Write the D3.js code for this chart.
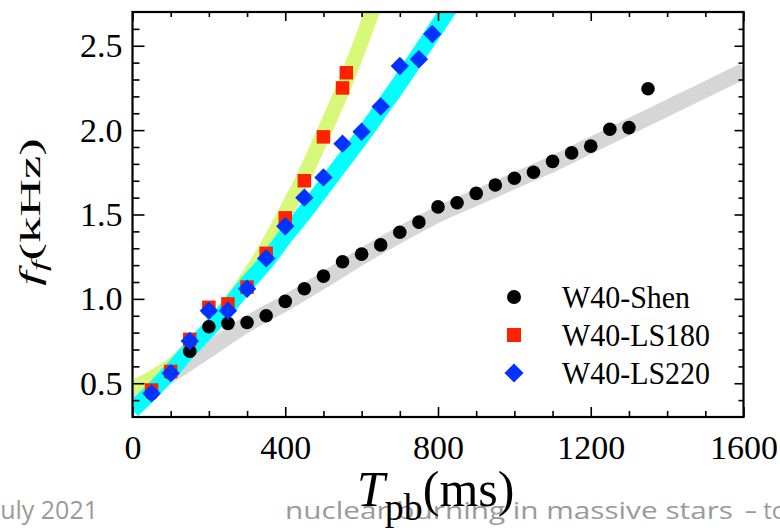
<!DOCTYPE html>
<html><head><meta charset="utf-8">
<script src="https://cdn.jsdelivr.net/npm/d3@7"></script>
<style>body{margin:0;background:#fff;} svg{display:block;}</style>
</head><body>
<svg id="chart" width="780" height="528"></svg>
<script>
// ---- data ----
const shenT = [50,100,150,200,250,300,350,400,450,500,550,600,650,700,750,800,850,900,950,1000,1050,1100,1150,1200,1250,1300,1350];
const shenF = [0.44,0.56,0.69,0.835,0.855,0.86,0.90,0.985,1.06,1.135,1.22,1.265,1.32,1.395,1.455,1.545,1.57,1.625,1.675,1.715,1.75,1.815,1.865,1.905,2.005,2.015,2.245];
const ls180T = [50,100,150,200,250,300,350,400,450,500,550,560];
const ls180F = [0.46,0.57,0.76,0.95,0.97,1.07,1.27,1.48,1.70,1.96,2.25,2.34];
const ls220T = [50,100,150,200,250,300,350,400,450,500,550,600,650,700,750,785];
const ls220F = [0.44,0.56,0.75,0.93,0.93,1.06,1.24,1.43,1.60,1.72,1.92,1.99,2.14,2.38,2.42,2.57];
const fitShenT = [0,100,200,300,400,500,600,700,800,900,1000,1100,1200,1300,1400,1500,1600];
const fitShenF = [0.40,0.55,0.70,0.85,0.975,1.11,1.25,1.38,1.50,1.60,1.70,1.80,1.91,2.02,2.13,2.24,2.35];
const fit180T = [0,50,100,150,200,250,300,350,400,450,500,550,600,650];
const fit180F = [0.47,0.53,0.60,0.70,0.82,0.96,1.12,1.30,1.51,1.73,1.98,2.24,2.53,2.84];
const fit220T = [0,50,100,150,200,250,300,350,400,450,500,550,600,650,700,750,800,850];
const fit220F = [0.34,0.45,0.57,0.70,0.82,0.95,1.09,1.22,1.37,1.51,1.66,1.81,1.96,2.12,2.28,2.45,2.62,2.79];
const xTickVals = [0,400,800,1200,1600];
const yTickVals = [0.5,1.0,1.5,2.0,2.5];
const legendLabels = ["W40-Shen","W40-LS180","W40-LS220"];

// ---- layout ----
const L = 132.5, R = 743.5, T = 12, B = 417;
const serif = "'Liberation Serif','Times New Roman',serif";
const svg = d3.select("#chart");
const x = d3.scaleLinear().domain([0,1600]).range([L,R]);
const y = d3.scaleLinear().domain([0.3,2.7]).range([B,T]);

svg.append("defs").append("clipPath").attr("id","plot")
  .append("rect").attr("x",L).attr("y",T).attr("width",R-L).attr("height",B-T);

// footer text (behind everything)
const footFont = "'Open Sans',sans-serif", footCol = "#9a9a9a";
svg.append("text").attr("x",98).attr("y",519).attr("text-anchor","end")
  .attr("font-family",footFont).attr("font-size",25).attr("fill",footCol)
  .text("July 2021");
svg.append("text").attr("x",285).attr("y",519)
  .attr("font-family",footFont).attr("font-size",24).attr("fill",footCol)
  .attr("textLength",448).attr("lengthAdjust","spacingAndGlyphs")
  .text("nuclear burning in massive stars");
svg.append("text").attr("x",745).attr("y",519)
  .attr("font-family",footFont).attr("font-size",24).attr("fill",footCol)
  .text("\u2013 towards");

const g = svg.append("g").attr("clip-path","url(#plot)");
const band = (ts, fs) => d3.line().curve(d3.curveCatmullRom)
  .x((d,i)=>x(ts[i])).y((d,i)=>y(fs[i]))(fs);
g.append("path").attr("d",band(fitShenT,fitShenF)).attr("fill","none")
  .attr("stroke","#d6d6d6").attr("stroke-width",16);
g.append("path").attr("d",band(fit180T,fit180F)).attr("fill","none")
  .attr("stroke","#d8f87a").attr("stroke-width",15);
g.append("path").attr("d",band(fit220T,fit220F)).attr("fill","none")
  .attr("stroke","#00ffff").attr("stroke-width",16);

// markers
g.selectAll("circle.shen").data(shenF).enter().append("circle")
  .attr("cx",(d,i)=>x(shenT[i])).attr("cy",d=>y(d)).attr("r",6.8).attr("fill","#000");
const sq = 13.5;
g.selectAll("rect.ls180").data(ls180F).enter().append("rect")
  .attr("x",(d,i)=>x(ls180T[i])-sq/2).attr("y",d=>y(d)-sq/2)
  .attr("width",sq).attr("height",sq).attr("fill","#ff2200");
const diamond = d3.symbol().type(d3.symbolSquare).size(13*13);
g.selectAll("path.ls220").data(ls220F).enter().append("path")
  .attr("d",diamond)
  .attr("transform",(d,i)=>`translate(${x(ls220T[i])},${y(d)}) rotate(45)`)
  .attr("fill","#0033ff");

// axes
function addAxis(axisFn, scale, vals, inner, fmt, pad, transform){
  const a = axisFn(scale).tickValues(vals).tickSizeInner(inner).tickSizeOuter(0)
    .tickPadding(pad).tickFormat(fmt);
  const ag = svg.append("g").attr("transform",transform).call(a);
  ag.select(".domain").remove();
  ag.selectAll("line").attr("stroke","#000").attr("stroke-width",1.6);
  ag.selectAll("text").attr("font-family",serif).attr("font-size",34).attr("fill","#000");
  return ag;
}
const xMinor = d3.range(100,1600,100).filter(v=>v%400!==0);
const yMinor = d3.range(4,27).map(v=>v/10).filter(v=>Math.round(v*10)%5!==0);
const none = ()=>"";
addAxis(d3.axisBottom, x, xTickVals, -10, d=>d, 18, `translate(0,${B})`);
addAxis(d3.axisBottom, x, xMinor, -6, none, 0, `translate(0,${B})`);
addAxis(d3.axisTop, x, xTickVals, -9, none, 0, `translate(0,${T})`);
addAxis(d3.axisTop, x, xMinor, -5, none, 0, `translate(0,${T})`);
addAxis(d3.axisLeft, y, yTickVals, -12, d3.format(".1f"), 10, `translate(${L},0)`);
addAxis(d3.axisLeft, y, yMinor, -7, none, 0, `translate(${L},0)`);
addAxis(d3.axisRight, y, yTickVals, -9, none, 0, `translate(${R},0)`);
addAxis(d3.axisRight, y, yMinor, -5, none, 0, `translate(${R},0)`);

svg.append("rect").attr("x",L).attr("y",T).attr("width",R-L).attr("height",B-T)
  .attr("fill","none").attr("stroke","#000").attr("stroke-width",2.2);

// legend
const lg = svg.append("g");
const ly = [297,335,373];
lg.append("circle").attr("cx",514).attr("cy",ly[0]).attr("r",7).attr("fill","#000");
lg.append("rect").attr("x",514-7).attr("y",ly[1]-7).attr("width",14).attr("height",14).attr("fill","#ff2200");
lg.append("path").attr("d",d3.symbol().type(d3.symbolSquare).size(13.5*13.5))
  .attr("transform",`translate(514,${ly[2]}) rotate(45)`).attr("fill","#0033ff");
const lens = [128,148,148];
legendLabels.forEach((t,i)=>{
  lg.append("text").attr("x",562).attr("y",ly[i]+10.5)
    .attr("font-family",serif).attr("font-size",32).attr("fill","#000")
    .attr("textLength",lens[i]).attr("lengthAdjust","spacingAndGlyphs").text(t);
});

// y label
const yl = svg.append("text").attr("transform","translate(40,212) rotate(-90) scale(1.75,1)")
  .attr("text-anchor","middle").attr("font-family",serif).attr("font-size",30).attr("fill","#000");
yl.append("tspan").attr("font-style","italic").text("f");
yl.append("tspan").attr("font-style","italic").attr("font-size",22).attr("dy",6).text("f");
yl.append("tspan").attr("dy",-6).text("(kHz)");

// x label
const xl = svg.append("text").attr("transform","translate(357,506)")
  .attr("font-family",serif).attr("font-size",50).attr("fill","#000");
xl.append("tspan").attr("font-style","italic").text("T");
xl.append("tspan").attr("font-size",38).attr("dy",14).text("pb");
xl.append("tspan").attr("dy",-14).text("(ms)");
</script>
</body></html>
